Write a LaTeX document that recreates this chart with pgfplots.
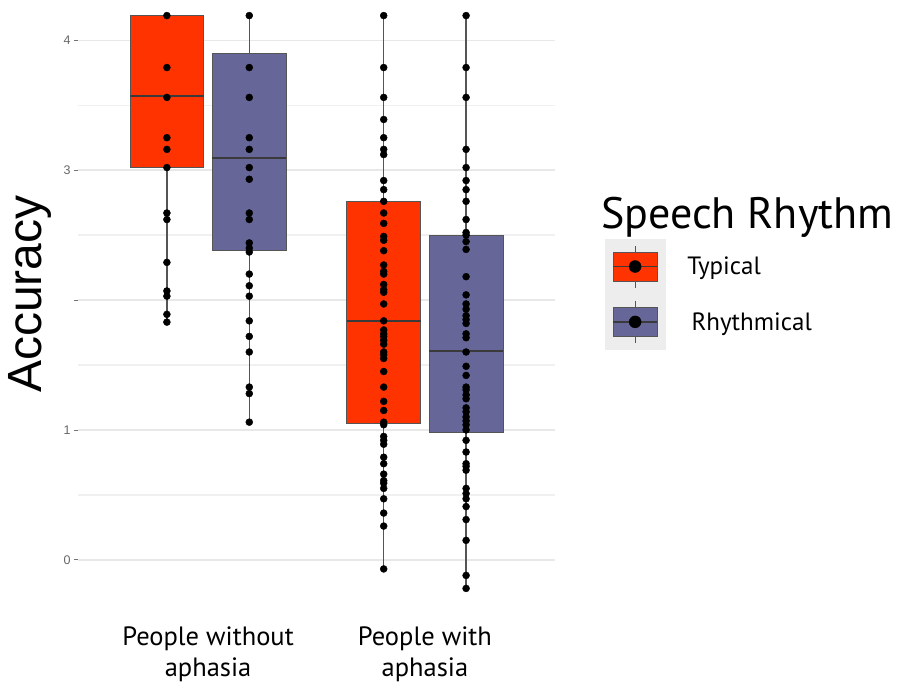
\documentclass[border=0pt]{standalone}
\usepackage{fontspec}
\setmainfont{PT Sans}
\newfontfamily\arial{Liberation Sans}
\usepackage{pgfplots}
\pgfplotsset{compat=1.18}
\usepgfplotslibrary{statistics}
\definecolor{typ}{HTML}{FF3300}
\definecolor{rhy}{HTML}{666699}
\definecolor{edge}{HTML}{555555}
\definecolor{med}{HTML}{3A3A3A}
\begin{document}
\begin{tikzpicture}[x=1pt,y=1pt]
\useasboundingbox (0,0) rectangle (898,682);
\begin{axis}[
  at={(78pt,65pt)}, anchor=south west, scale only axis,
  width=477pt, height=617pt,
  xmin=0.4, xmax=2.6, ymin=-0.44, ymax=4.31,
  axis line style={draw=none},
  ytick={0,1,2,3,4}, yticklabels={0,1,{},3,4},
  minor ytick={0.5,1.5,2.5,3.5},
  ymajorgrids, yminorgrids,
  major grid style={black!9, line width=1.4pt},
  minor grid style={black!6, line width=1.4pt},
  xtick={1,2},
  xticklabels={People without\\aphasia, People with\\aphasia},
  x tick label style={align=center, font=\fontsize{26.5}{31}\selectfont, yshift=-2pt},
  xtick style={draw=none},
  ytick pos=left, tick align=outside, major tick length=4pt, minor tick length=0pt,
  ytick style={black!55, line width=0.8pt},
  y tick label style={font=\arial\fontsize{12.5}{14}\selectfont, text=black!60},
  /pgf/number format/assume math mode=true,
  ylabel={Accuracy},
  ylabel style={font=\arial\fontsize{48}{50}\selectfont, at={(axis description cs:-0.1006,0.523)}, anchor=center},
  clip=false,
  boxplot/draw direction=y,
  boxplot/every median/.style={draw=med, line width=2pt},
  boxplot/every whisker/.style={draw=edge, line width=1.4pt},
  boxplot/whisker extend=0,
  legend style={at={(axis description cs:1.098,0.6165)}, anchor=north west, draw=none, fill=none,
    font=\fontsize{25}{30}\selectfont, row sep=0pt,
    /tikz/every odd column/.append style={column sep=20pt}},
  legend cell align=left,
]
% boxes
\addplot[forget plot, fill=typ, draw=edge, line width=0.9pt, boxplot prepared={draw position=0.81, box extend=0.34,
  lower whisker=1.83, lower quartile=3.02, median=3.57, upper quartile=4.19, upper whisker=4.19}] coordinates {};
\addplot[forget plot, fill=rhy, draw=edge, line width=0.9pt, boxplot prepared={draw position=1.19, box extend=0.34,
  lower whisker=1.06, lower quartile=2.38, median=3.09, upper quartile=3.90, upper whisker=4.19}] coordinates {};
\addplot[forget plot, fill=typ, draw=edge, line width=0.9pt, boxplot prepared={draw position=1.81, box extend=0.34,
  lower whisker=-0.07, lower quartile=1.05, median=1.84, upper quartile=2.76, upper whisker=4.19}] coordinates {};
\addplot[forget plot, fill=rhy, draw=edge, line width=0.9pt, boxplot prepared={draw position=2.19, box extend=0.34,
  lower whisker=-0.22, lower quartile=0.98, median=1.61, upper quartile=2.50, upper whisker=4.19}] coordinates {};
% points
\addplot[forget plot, only marks, mark=*, mark size=3.5pt, black] coordinates {
 (0.81,4.19) (0.81,3.79) (0.81,3.56) (0.81,3.25) (0.81,3.16) (0.81,3.02) (0.81,2.67) (0.81,2.62)
 (0.81,2.29) (0.81,2.07) (0.81,2.03) (0.81,1.89) (0.81,1.83)};
\addplot[forget plot, only marks, mark=*, mark size=3.5pt, black] coordinates {
 (1.19,4.19) (1.19,3.79) (1.19,3.56) (1.19,3.25) (1.19,3.16) (1.19,3.02) (1.19,2.93) (1.19,2.67)
 (1.19,2.62) (1.19,2.44) (1.19,2.40) (1.19,2.37) (1.19,2.20) (1.19,2.11) (1.19,2.03) (1.19,1.84)
 (1.19,1.72) (1.19,1.60) (1.19,1.33) (1.19,1.28) (1.19,1.06)};
\addplot[forget plot, only marks, mark=*, mark size=3.5pt, black] coordinates {
 (1.81,4.19) (1.81,3.79) (1.81,3.56) (1.81,3.39) (1.81,3.25) (1.81,3.16) (1.81,3.12) (1.81,2.92)
 (1.81,2.85) (1.81,2.76) (1.81,2.67) (1.81,2.59) (1.81,2.49) (1.81,2.46) (1.81,2.38) (1.81,2.27)
 (1.81,2.22) (1.81,2.20) (1.81,2.12) (1.81,2.08) (1.81,2.06) (1.81,1.97) (1.81,1.84) (1.81,1.77)
 (1.81,1.74) (1.81,1.72) (1.81,1.69) (1.81,1.66) (1.81,1.60) (1.81,1.58) (1.81,1.55) (1.81,1.45)
 (1.81,1.33) (1.81,1.22) (1.81,1.15) (1.81,1.06) (1.81,1.04) (1.81,0.95) (1.81,0.92) (1.81,0.89)
 (1.81,0.79) (1.81,0.74) (1.81,0.66) (1.81,0.61) (1.81,0.59) (1.81,0.55) (1.81,0.47) (1.81,0.36)
 (1.81,0.26) (1.81,-0.07)};
\addplot[forget plot, only marks, mark=*, mark size=3.5pt, black] coordinates {
 (2.19,4.19) (2.19,3.79) (2.19,3.56) (2.19,3.16) (2.19,3.02) (2.19,2.92) (2.19,2.85) (2.19,2.76)
 (2.19,2.62) (2.19,2.52) (2.19,2.50) (2.19,2.45) (2.19,2.39) (2.19,2.18) (2.19,2.04) (2.19,1.97)
 (2.19,1.93) (2.19,1.88) (2.19,1.85) (2.19,1.82) (2.19,1.74) (2.19,1.71) (2.19,1.60) (2.19,1.49)
 (2.19,1.42) (2.19,1.33) (2.19,1.31) (2.19,1.27) (2.19,1.24) (2.19,1.17) (2.19,1.14) (2.19,1.10)
 (2.19,1.07) (2.19,1.04) (2.19,1.00) (2.19,0.92) (2.19,0.83) (2.19,0.74) (2.19,0.72) (2.19,0.69)
 (2.19,0.55) (2.19,0.51) (2.19,0.47) (2.19,0.41) (2.19,0.31) (2.19,0.15) (2.19,-0.12) (2.19,-0.22)};
% legend
\addlegendimage{legend image code/.code={
  \fill[black!7] (-8pt,-27.5pt) rectangle (52pt,27.5pt);
  \draw[edge, line width=1pt] (22pt,-21pt) -- (22pt,21pt);
  \filldraw[fill=typ, draw=edge, line width=0.8pt] (0pt,-14.5pt) rectangle (44pt,14.5pt);
  \draw[med, line width=1.2pt] (0pt,0pt) -- (44pt,0pt);
  \fill[black] (22pt,0pt) circle (6pt);
}}
\addlegendentry{Typical}
\addlegendimage{legend image code/.code={
  \fill[black!7] (-8pt,-27.5pt) rectangle (52pt,27.5pt);
  \draw[edge, line width=1pt] (22pt,-21pt) -- (22pt,21pt);
  \filldraw[fill=rhy, draw=edge, line width=0.8pt] (0pt,-14.5pt) rectangle (44pt,14.5pt);
  \draw[med, line width=1.2pt] (0pt,0pt) -- (44pt,0pt);
  \fill[black] (22pt,0pt) circle (6pt);
}}
\addlegendentry{\,Rhythmical}
\end{axis}
\node[anchor=base west, inner sep=0pt, font=\fontsize{44}{48}\selectfont] at (601,453) {Speech Rhythm};
\end{tikzpicture}
\end{document}
